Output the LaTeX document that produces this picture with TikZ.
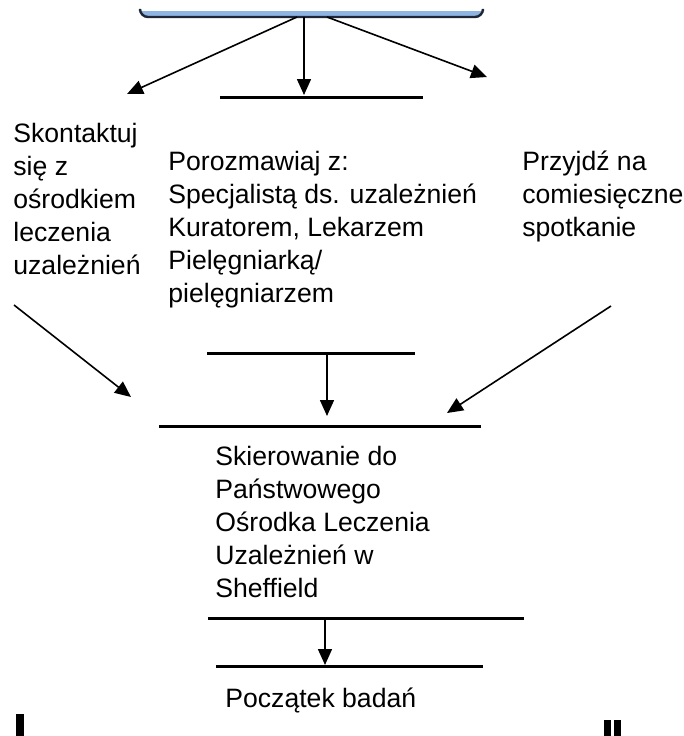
\documentclass[tikz,border=0pt]{standalone}
\usepackage{fontspec}
\setmainfont{Liberation Sans}
\usetikzlibrary{arrows.meta,calc}
\definecolor{boxblue}{HTML}{8DB4E2}
\definecolor{boxedge}{HTML}{1C2636}
\tikzset{
	flowtext/.style={anchor=base west, inner sep=0pt, align=left, font=\fontsize{13.3}{16.5}\selectfont},
	flowline/.style={line width=1.5pt},
	flowarrow/.style={line width=0.8pt, -{Triangle[length=8pt,width=7pt]}},
}

\begin{document}
\begin{tikzpicture}[x=0.5pt,y=-0.5pt]
	%%%%% START %%%%%
	\useasboundingbox (0,0) rectangle (684,736);
	
	% cut-off box at the top
	\draw[fill=boxblue, draw=boxedge, line width=1.2pt, rounded corners=4] (140,11) -- (140,17) -- (483,17) -- (483,11);
	\coordinate (topL) at (297,17);
	\coordinate (topM) at (304,17);
	\coordinate (topR) at (327,17);
	
	\coordinate (tipL) at (127,94);
	\coordinate (tipM) at (304,95);
	\coordinate (tipR) at (487,77);
	\draw[flowarrow] (topL) -- (tipL);
	\draw[flowarrow] (topM) -- (tipM);
	\draw[flowarrow] (topR) -- (tipR);
	\draw[flowline] (220,97) -- (423,97);
	
	% three ways (base = last line)
	\node[flowtext] (contact) at (13,274) {Skontaktuj\\się z\\ośrodkiem\\leczenia\\uzależnień};
	\node[flowtext] (talk) at (168,302) {Porozmawiaj z:\\Specjalistą ds. uzależnień\\Kuratorem, Lekarzem\\Pielęgniarką/\\pielęgniarzem};
	\node[flowtext] (meeting) at (522,236) {Przyjdź na\\comiesięczne\\spotkanie};
	
	\coordinate (talkL) at (207,353);
	\coordinate (talkR) at (415,353);
	\draw[flowline] (talkL) -- (talkR);
	
	\coordinate (contactEnd) at (14,305);
	\coordinate (meetingEnd) at (611,306);
	\draw[flowarrow] (contactEnd) -- (131,397);
	\draw[flowarrow] ($(talkL)!0.577!(talkR)$) -- (327,416);
	\draw[flowarrow] (meetingEnd) -- (447,413);
	
	% referral
	\draw[flowline] (159,426) -- (481,426);
	\node[flowtext] (referral) at (215,597) {Skierowanie do\\Państwowego\\Ośrodka Leczenia\\Uzależnień w\\Sheffield};
	\draw[flowline] (208,618) -- (524,618);
	\draw[flowarrow] (325,618) -- (325,665);
	\draw[flowline] (216,666) -- (483,666);
	\node[flowtext] (begin) at (225,707) {Początek badań};
	
	% cut-off letters at the bottom
	\fill (16,714) rectangle (24,736);
	\fill (604,720) rectangle (611,736);
	\fill (614,720) rectangle (621,736);
	%%%%% END %%%%%
\end{tikzpicture}
\end{document}
